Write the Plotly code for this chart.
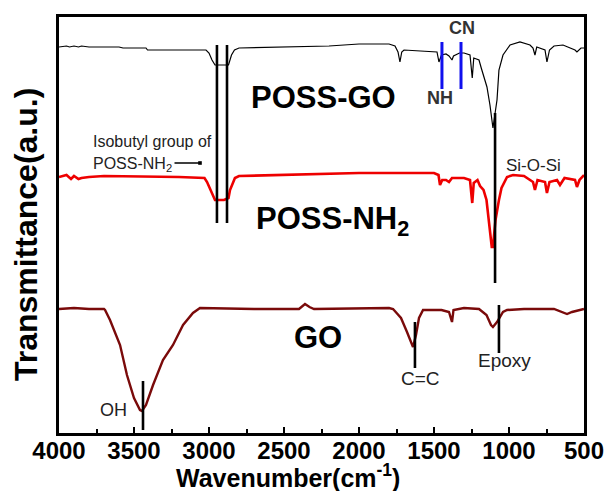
import plotly.graph_objects as go

# ---- data (wavenumber cm-1, transmittance a.u.) ----
poss_go_wn = [4000, 3950, 3930, 3900, 3870, 3850, 3800, 3600, 3573, 3420, 3410, 3020, 3000, 2980, 2960,
              2900, 2870, 2850, 2830, 2800, 2400, 2200, 2000, 1800, 1760, 1740, 1727, 1715, 1700, 1500,
              1480, 1467, 1450, 1420, 1400, 1380, 1370, 1330, 1300, 1260, 1245, 1235, 1200, 1185, 1170,
              1147, 1127, 1107, 1080, 1067, 1040, 993, 927, 860, 840, 827, 815, 760, 747, 730, 700, 640,
              560, 547, 520, 500]
poss_go_t = [386, 387, 386, 387, 386, 387, 386, 386, 385, 385, 383, 383, 380, 373, 368,
             368, 368, 378, 383, 385, 386, 387, 389, 389, 387, 381, 371, 381, 383, 381,
             381, 371, 378, 379, 377, 373, 377, 380, 380, 378, 355, 375, 373, 365, 358,
             346, 328, 305, 333, 363, 378, 388, 391, 388, 385, 378, 386, 383, 371, 383, 387, 388,
             383, 381, 385, 385]

poss_nh2_wn = [4000, 3950, 3920, 3900, 3870, 3850, 3800, 3700, 3200, 3030, 3013, 2990, 2973, 2960, 2900,
               2870, 2860, 2840, 2827, 2800, 2500, 2000, 1500, 1470, 1460, 1445, 1420, 1400, 1380, 1300,
               1260, 1245, 1235, 1210, 1193, 1170, 1150, 1135, 1115, 1107, 1090, 1067, 1050, 1013, 973,
               900, 840, 827, 810, 760, 747, 730, 680, 660, 630, 560, 547, 530, 500]
poss_nh2_t = [256, 258, 254, 257, 254, 255, 256, 257, 256, 255, 251, 243, 238, 233, 233,
              235, 243, 251, 255, 257, 258, 260, 260, 258, 248, 253, 253, 251, 255, 255,
              253, 230, 250, 253, 247, 243, 233, 213, 186, 186, 213, 233, 245, 256, 258,
              257, 251, 243, 253, 251, 240, 251, 253, 248, 255, 253, 246, 253, 258]

go_wn = [4000, 3900, 3800, 3700, 3693, 3660, 3593, 3547, 3500, 3460, 3447, 3420, 3373, 3307, 3240,
         3173, 3107, 3060, 2700, 2400, 2360, 2330, 2300, 1800, 1773, 1720, 1680, 1660, 1640, 1620,
         1600, 1573, 1450, 1400, 1380, 1370, 1300, 1200, 1150, 1120, 1107, 1080, 1040, 1013, 900,
         700, 613, 580, 500]
go_t = [124, 125, 124, 124, 123, 113, 88, 58, 35, 23, 22, 28, 48, 73, 88,
        108, 120, 125, 124, 124, 129, 126, 124, 125, 124, 115, 101, 93, 86, 98,
        115, 123, 123, 121, 111, 123, 125, 124, 118, 108, 106, 111, 121, 123, 124,
        124, 119, 121, 124]

x_ticks = [4000, 3500, 3000, 2500, 2000, 1500, 1000, 500]
x_tick_labels = ["4000", "3500", "3000", "2500", "2000", "1500", "1000", "500"]

# band marker lines: (wavenumber, y_top, y_bottom, color)
band_lines = [
    (2947, 388, 210, "black"),   # isobutyl
    (2880, 388, 210, "black"),   # isobutyl
    (1093, 320, 150, "black"),   # Si-O-Si
    (3440, 52, 3, "black"),      # OH
    (1627, 111, 65, "black"),    # C=C
    (1067, 128, 80, "black"),    # Epoxy
    (1447, 391, 344, "#1010ee"), # NH
    (1320, 391, 344, "#1010ee"), # CN
]

fig = go.Figure()
fig.add_trace(go.Scatter(x=poss_go_wn, y=poss_go_t, mode="lines",
                         line=dict(color="black", width=1.2), name="POSS-GO"))
fig.add_trace(go.Scatter(x=poss_nh2_wn, y=poss_nh2_t, mode="lines",
                         line=dict(color="#ee0000", width=2.6), name="POSS-NH2"))
fig.add_trace(go.Scatter(x=go_wn, y=go_t, mode="lines",
                         line=dict(color="#7a0a0a", width=2.4), name="GO"))

for wn, y0, y1, col in band_lines:
    fig.add_shape(type="line", x0=wn, x1=wn, y0=y0, y1=y1, xref="x", yref="y",
                  line=dict(color=col, width=3 if col != "black" else 2.6))

FONT = "Liberation Sans, Arial, sans-serif"

def txt(x, y, s, size, bold=False, color="black", xanchor="center"):
    fig.add_annotation(x=x, y=y, text=s, showarrow=False, xref="x", yref="y",
                       xanchor=xanchor, yanchor="middle",
                       font=dict(family=FONT, size=size, color=color,
                                 weight="bold" if bold else "normal"))

txt(2240, 336, "POSS-GO", 31, bold=True)
txt(2180, 212, "POSS-NH<sub>2</sub>", 31, bold=True)
txt(2273, 96, "GO", 31, bold=True)
txt(1460, 335, "NH", 18, bold=True, color="#333333")
txt(1313, 405, "CN", 18, bold=True, color="#333333")
txt(840, 268, "Si-O-Si", 17, color="#222222")
txt(3640, 23, "OH", 18, color="#222222")
txt(1587, 55, "C=C", 19, color="#222222")
txt(1027, 73, "Epoxy", 19, color="#222222")
txt(3790, 292, "Isobutyl group of", 16, color="#222222", xanchor="left")
txt(3790, 269, "POSS-NH<sub>2</sub>", 16, color="#222222", xanchor="left")
fig.add_annotation(x=3060, y=270, ax=3240, ay=270, axref="x", ayref="y", xref="x", yref="y",
                   text="", showarrow=True, arrowhead=7, arrowsize=0.6, arrowwidth=1.5,
                   arrowcolor="black")

# axis titles as annotations
fig.add_annotation(x=-0.063, y=0.478, xref="paper", yref="paper", text="Transmittance(a.u.)",
                   textangle=-90, showarrow=False, xanchor="center", yanchor="middle",
                   font=dict(family=FONT, size=32, color="black", weight="bold"))
fig.add_annotation(x=0.436, y=-0.104, xref="paper", yref="paper",
                   text="Wavenumber(cm<sup>-1</sup>)", showarrow=False,
                   xanchor="center", yanchor="middle",
                   font=dict(family=FONT, size=25, color="black", weight="bold"))

fig.update_layout(
    width=605, height=491,
    margin=dict(l=59, r=21, t=17, b=58, autoexpand=False),
    paper_bgcolor="white", plot_bgcolor="white",
    showlegend=False,
    font=dict(family=FONT),
)
fig.update_xaxes(range=[4000, 500], tickmode="array", tickvals=x_ticks, ticktext=x_tick_labels,
                 ticks="inside", ticklen=6, tickwidth=2, tickcolor="black",
                 minor=dict(ticks="inside", dtick=250, ticklen=4, tickwidth=2, tickcolor="black",
                            tick0=500),
                 showline=True, linewidth=2.5, linecolor="black", mirror=True,
                 showgrid=False, zeroline=False, automargin=False, ticklabelstandoff=-6,
                 tickfont=dict(family=FONT, size=24, color="black", weight="bold"))
fig.update_yaxes(range=[0, 416], showticklabels=False, ticks="",
                 showline=True, linewidth=2.5, linecolor="black", mirror=True,
                 showgrid=False, zeroline=False, automargin=False)

fig.write_html("out.html")
